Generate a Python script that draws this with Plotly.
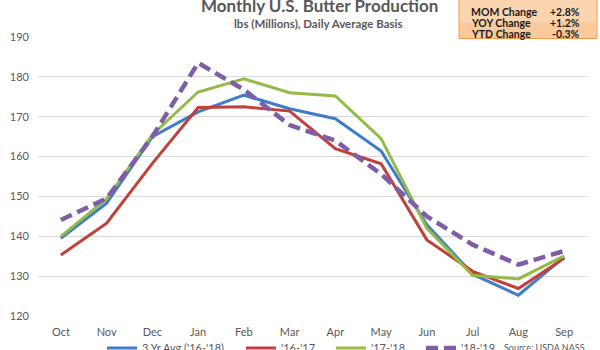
import plotly.graph_objects as go

months = ["Oct", "Nov", "Dec", "Jan", "Feb", "Mar", "Apr", "May", "Jun", "Jul", "Aug", "Sep"]
avg_3yr = [139.5, 148.3, 165.0, 171.2, 175.4, 172.0, 169.5, 161.4, 142.9, 130.5, 125.2, 134.8]
y16_17 = [135.3, 143.3, 158.3, 172.3, 172.5, 171.4, 162.0, 158.2, 139.1, 131.2, 126.9, 134.5]
y17_18 = [140.0, 149.4, 165.5, 176.2, 179.5, 176.0, 175.2, 164.5, 142.0, 130.2, 129.3, 135.1]
y18_19 = [144.1, 149.5, 165.0, 183.5, 176.8, 167.9, 164.0, 155.6, 145.0, 137.9, 132.9, 136.3]
series_names = ["3 Yr Avg ('16-'18)", "'16-'17", "'17-'18", "'18-'19"]
change_labels = ["MOM Change", "YOY Change", "YTD Change"]
change_values = ["+2.8%", "+1.2%", "-0.3%"]

W, H = 600, 350
L, R, T, B = 38, 13, 36.5, 33.5
PW, PH = W - L - R, H - T - B

def px(x):
    return (x - L) / PW

def py(y):
    return (H - B - y) / PH

FONT = "Lato"
GRAY = "#595959"

fig = go.Figure()
styles = [
    dict(color="#3F7DC6", width=3),
    dict(color="#C0403C", width=3),
    dict(color="#94BB48", width=3),
    dict(color="#7E5EA6", width=4.5, dash="12px,6px"),
]
legend_ids = ["legend", "legend2", "legend3", "legend4"]
legend_x = [102, 241, 331, 421]
for name, vals, st, lid in zip(series_names, [avg_3yr, y16_17, y17_18, y18_19], styles, legend_ids):
    fig.add_trace(go.Scatter(x=months, y=vals, mode="lines", name=name, line=st, legend=lid))

legend_common = dict(orientation="h", xanchor="left", y=py(334), yanchor="top",
                     font=dict(size=11, color=GRAY), bgcolor="rgba(0,0,0,0)", itemwidth=30)
fig.update_layout(
    width=W, height=H,
    margin=dict(l=L, r=R, t=T, b=B, autoexpand=False),
    paper_bgcolor="white", plot_bgcolor="white",
    font=dict(family=FONT, color=GRAY, size=11),
    showlegend=True,
    xaxis=dict(range=[-0.5, 11.5], showgrid=False, showline=False, zeroline=False, ticks="",
               tickfont=dict(size=11, color=GRAY), ticklabelstandoff=8),
    yaxis=dict(range=[120, 190], dtick=10, showgrid=True, gridcolor="#D9D9D9", gridwidth=1,
               zeroline=False, showline=False, ticks="", tickfont=dict(size=11, color=GRAY),
               ticklabelstandoff=8),
)
for lid, lx in zip(legend_ids, legend_x):
    fig.update_layout({lid: dict(legend_common, x=px(lx))})

annotations = [
    dict(text="<b>Monthly U.S. Butter Production</b>", x=px(319), y=py(5), xref="paper", yref="paper",
         showarrow=False, font=dict(size=17, color=GRAY, family=FONT), xanchor="center", yanchor="middle"),
    dict(text="<b>lbs (Millions), Daily Average Basis</b>", x=px(318), y=py(23), xref="paper", yref="paper",
         showarrow=False, font=dict(size=11.5, color=GRAY, family=FONT), xanchor="center", yanchor="middle"),
    dict(text="Source: USDA NASS", x=px(502), y=py(348), xref="paper", yref="paper",
         showarrow=False, font=dict(size=9, color=GRAY, family=FONT), xanchor="left", yanchor="middle"),
]
ys = [11, 22.5, 33.5]
for lab, val, yy in zip(change_labels, change_values, ys):
    annotations.append(dict(text="<b>" + lab + "</b>", x=px(469), y=py(yy), xref="paper", yref="paper",
                            showarrow=False, font=dict(size=10.5, color="#1a1a1a", family=FONT),
                            xanchor="left", yanchor="middle"))
    annotations.append(dict(text="<b>" + val + "</b>", x=px(582), y=py(yy), xref="paper", yref="paper",
                            showarrow=False, font=dict(size=10.5, color="#1a1a1a", family=FONT),
                            xanchor="right", yanchor="middle"))
fig.update_layout(annotations=annotations)

fig.add_shape(type="rect", xref="paper", yref="paper", x0=px(459), x1=px(597), y0=py(38), y1=py(-2),
              line=dict(color="#F79646", width=1), fillcolor="#FBD4B0", layer="above")
fig.add_shape(type="rect", xref="paper", yref="paper", x0=px(460), x1=px(596), y0=py(37), y1=py(22),
              line=dict(width=0), fillcolor="#F9C08E", layer="above", opacity=0.6)

fig.write_html("out.html")
